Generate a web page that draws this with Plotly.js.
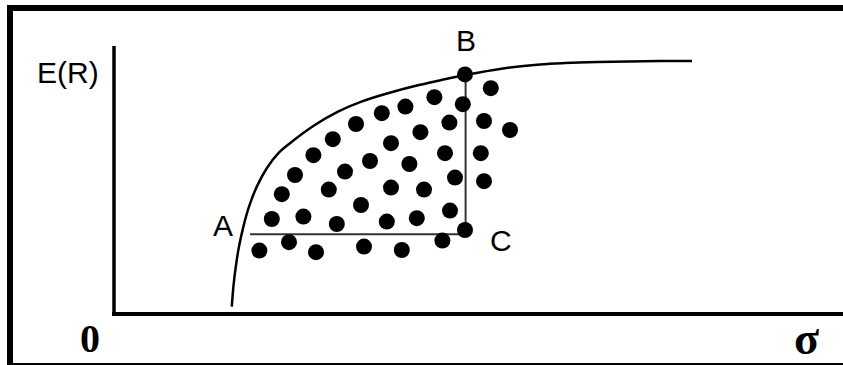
<!DOCTYPE html>
<html>
<head>
<meta charset="utf-8">
<script src="https://cdn.plot.ly/plotly-3.0.1.min.js"></script>
<style>
  html, body { margin: 0; padding: 0; background: #fff; }
  #frame { position: absolute; left: 7px; top: 5px; width: 836px; height: 360px;
           box-sizing: border-box; border-top: 6px solid #000; border-left: 6px solid #000;
           border-bottom: 2px solid #000; }
  #chart { position: absolute; left: 0; top: 0; width: 843px; height: 365px; }
</style>
</head>
<body>
<div id="frame"></div>
<div id="chart"></div>
<script>
// Efficient frontier curve (sigma, E(R))
const frontierSigma = [5.89, 5.97, 6.09, 6.25, 6.47, 6.75, 7.14, 7.64, 8.22, 8.80, 10.04, 11.20, 12.37, 13.70, 15.04, 16.37, 17.55, 19.45, 21.30, 22.55, 24.15, 27.30, 28.90];
const frontierER    = [0.37, 1.37, 2.37, 3.37, 4.37, 5.37, 6.37, 7.29, 8.04, 8.54, 9.45, 10.12, 10.62, 11.04, 11.40, 11.70, 11.95, 12.28, 12.48, 12.55, 12.60, 12.65, 12.65];

// Portfolios (dots)
const portSigma = [17.55, 18.84, 16.02, 17.44, 14.57, 13.39, 12.10, 16.77, 18.50, 19.80,
                   15.32, 10.94, 13.85, 9.97, 16.55, 18.34, 12.80, 14.77, 11.55, 9.05,
                   17.05, 18.50, 10.74, 13.85, 15.50, 8.39, 12.35, 16.80, 7.89, 9.47,
                   11.14, 13.64, 15.14, 17.55, 16.42, 7.27, 8.75, 10.10, 12.50, 14.39];
const portER    = [11.98, 11.29, 10.84, 10.49, 10.37, 10.04, 9.50, 9.57, 9.65, 9.20,
                   9.09, 8.74, 8.54, 7.94, 8.04, 8.04, 7.65, 7.50, 7.12, 6.95,
                   6.82, 6.64, 6.22, 6.32, 6.22, 5.99, 5.45, 5.17, 4.75, 4.87,
                   4.50, 4.62, 4.79, 4.20, 3.67, 3.17, 3.59, 3.09, 3.37, 3.20];

// Guide lines A-C and C-B
const acSigma = [6.80, 17.58];
const acER    = [3.99, 3.99];
const cbSigma = [17.58, 17.58];
const cbER    = [3.99, 11.98];

// Labels
const labelText  = ["A", "B", "C"];
const labelSigma = [5.45, 17.58, 19.35];
const labelER    = [4.45, 13.70, 3.70];

const axisTop = 13.4;
const axisRight = 36.45;

const traces = [
  { x: frontierSigma, y: frontierER, mode: 'lines', type: 'scatter',
    line: { color: '#000', width: 2.5, shape: 'spline', smoothing: 1 }, hoverinfo: 'skip' },
  { x: acSigma, y: acER, mode: 'lines', type: 'scatter',
    line: { color: '#333', width: 2 }, hoverinfo: 'skip' },
  { x: cbSigma, y: cbER, mode: 'lines', type: 'scatter',
    line: { color: '#333', width: 2 }, hoverinfo: 'skip' },
  { x: portSigma, y: portER, mode: 'markers', type: 'scatter',
    marker: { color: '#000', size: 16, line: { width: 0 } }, hoverinfo: 'skip' }
];

const sans = { family: 'Liberation Sans, Arial, sans-serif', size: 30, color: '#000' };
const serif = { family: 'Liberation Serif, Times New Roman, serif', size: 40, color: '#000', weight: 'bold' };

const annotations = labelText.map((t, i) => ({
  x: labelSigma[i], y: labelER[i], xref: 'x', yref: 'y', text: t, showarrow: false,
  font: sans, xanchor: 'center', yanchor: 'middle'
}));
annotations.push({ x: -2.3, y: 12.1, xref: 'x', yref: 'y', text: 'E(R)', showarrow: false,
  font: sans, xanchor: 'center', yanchor: 'middle' });
annotations.push({ x: -1.2, y: -1.2, xref: 'x', yref: 'y', text: '0', showarrow: false,
  font: serif, xanchor: 'center', yanchor: 'middle' });
annotations.push({ x: 34.6, y: -1.2, xref: 'x', yref: 'y', text: 'σ', showarrow: false,
  font: Object.assign({}, serif, { size: 46 }), xanchor: 'center', yanchor: 'middle' });

const layout = {
  width: 843, height: 365,
  margin: { l: 0, r: 0, t: 0, b: 0, pad: 0 },
  paper_bgcolor: 'rgba(0,0,0,0)', plot_bgcolor: 'rgba(0,0,0,0)',
  showlegend: false,
  xaxis: { range: [-5.7, 36.45], showgrid: false, zeroline: false, showticklabels: false, showline: false, ticks: '', fixedrange: true },
  yaxis: { range: [-2.55, 15.7], showgrid: false, zeroline: false, showticklabels: false, showline: false, ticks: '', fixedrange: true },
  shapes: [
    { type: 'line', xref: 'x', yref: 'y', x0: 0, x1: 0, y0: 0, y1: axisTop, line: { color: '#000', width: 3.5 } },
    { type: 'line', xref: 'x', yref: 'y', x0: -0.1, x1: axisRight, y0: 0, y1: 0, line: { color: '#000', width: 4 } }
  ],
  annotations: annotations
};

Plotly.newPlot('chart', traces, layout, { staticPlot: true, displayModeBar: false });
</script>
</body>
</html>
